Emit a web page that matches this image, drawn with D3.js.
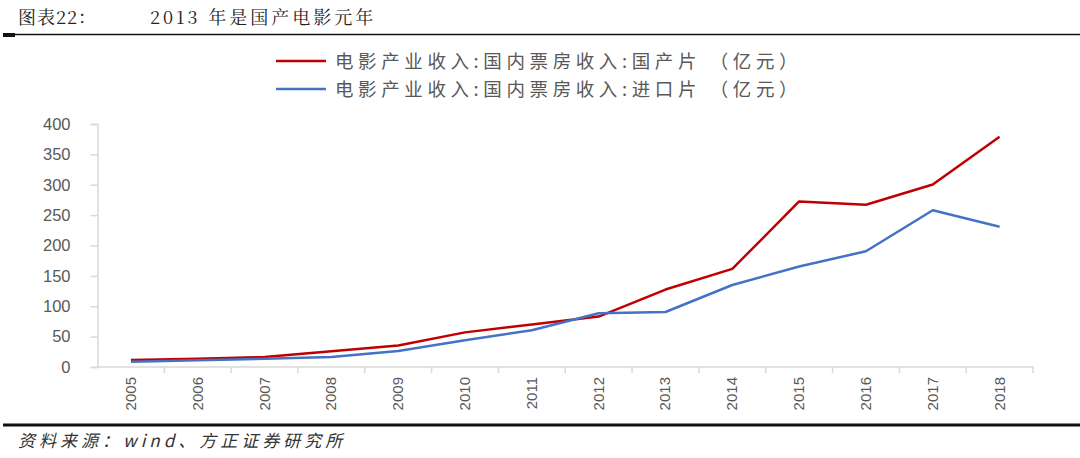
<!DOCTYPE html>
<html>
<head>
<meta charset="utf-8">
<script src="https://cdn.jsdelivr.net/npm/d3@7"></script>
<style>
  body { margin: 0; background: #fff; }
  svg { display: block; }
</style>
</head>
<body>
<svg id="chart" width="1080" height="458"></svg>
<script>
// chart data
const years = ['2005', '2006', '2007', '2008', '2009', '2010', '2011', '2012', '2013', '2014', '2015', '2016', '2017', '2018'];
const domestic = [11.5, 13.5, 16.5, 26, 35.5, 57, 70, 83, 127.5, 161.5, 272.5, 267, 300.5, 379];
const imported = [8.5, 11, 13.5, 16.5, 26.5, 44, 60.5, 88.5, 90.5, 135, 165.5, 190.5, 258, 231];
const yTicks = [0, 50, 100, 150, 200, 250, 300, 350, 400];
const seriesNames = ['电影产业收入:国内票房收入:国产片 （亿元）', '电影产业收入:国内票房收入:进口片 （亿元）'];
const seriesColors = ['#c00000', '#4472c4'];

const svg = d3.select('#chart');
const serif = '"Noto Serif CJK SC", "Noto Sans CJK SC", serif';
const sans = '"Noto Sans CJK SC", "Noto Sans", sans-serif';

// header
svg.append('text').attr('x', 18).attr('y', 24)
  .attr('font-family', serif).attr('font-size', 18).attr('letter-spacing', 1).attr('fill', '#222')
  .text('图表22：');
svg.append('text').attr('x', 150).attr('y', 24)
  .attr('font-family', serif).attr('font-size', 18).attr('letter-spacing', 3).attr('fill', '#222')
  .text('2013 年是国产电影元年');
svg.append('line').attr('x1', 3).attr('x2', 1080).attr('y1', 34.5).attr('y2', 34.5)
  .attr('stroke', '#111').attr('stroke-width', 1.5);
svg.append('rect').attr('x', 3).attr('y', 33).attr('width', 12).attr('height', 4).attr('fill', '#111');

// footer
svg.append('line').attr('x1', 3).attr('x2', 1080).attr('y1', 425).attr('y2', 425)
  .attr('stroke', '#111').attr('stroke-width', 3);
svg.append('text').attr('x', 18).attr('y', 447)
  .attr('font-family', sans).attr('font-size', 17).attr('letter-spacing', 4)
  .attr('font-style', 'italic').attr('fill', '#333')
  .text('资料来源：wind、方正证券研究所');

// scales
const x = d3.scaleBand().domain(years).range([97.5, 1033]);
const y = d3.scaleLinear().domain([0, 400]).range([367, 124]);

// y axis
const yAxis = svg.append('g').attr('transform', 'translate(97.5,0)')
  .call(d3.axisLeft(y).tickValues(yTicks).tickSize(7).tickPadding(20));
yAxis.select('.domain').attr('stroke', '#d9d9d9').attr('stroke-width', 1.5);
yAxis.selectAll('.tick line').attr('stroke', '#d9d9d9').attr('stroke-width', 1.5);
yAxis.selectAll('.tick text')
  .attr('font-family', '"Liberation Sans", Arial, sans-serif').attr('font-size', 16.5).attr('fill', '#595959');

// x axis: line with ticks between categories
const xg = svg.append('g');
xg.append('line').attr('x1', 97.5).attr('x2', 1033).attr('y1', 367).attr('y2', 367)
  .attr('stroke', '#d9d9d9').attr('stroke-width', 1.5);
xg.selectAll('line.tk').data(years.slice(1).concat(['end']))
  .join('line').attr('class', 'tk')
  .attr('x1', (d, i) => x(years[0]) + x.step() * (i + 1))
  .attr('x2', (d, i) => x(years[0]) + x.step() * (i + 1))
  .attr('y1', 367).attr('y2', 373)
  .attr('stroke', '#d9d9d9').attr('stroke-width', 1.5);
xg.selectAll('text').data(years).join('text')
  .attr('transform', d => `translate(${x(d) + x.bandwidth() / 2 + 5},377) rotate(-90)`)
  .attr('text-anchor', 'end')
  .attr('font-family', '"Liberation Sans Narrow", "Liberation Sans", sans-serif')
  .attr('font-size', 15).attr('fill', '#595959')
  .text(d => d);

// lines
const line = d3.line()
  .x((d, i) => x(years[i]) + x.bandwidth() / 2)
  .y(d => y(d));
[domestic, imported].forEach((vals, k) => {
  svg.append('path').datum(vals)
    .attr('d', line)
    .attr('fill', 'none')
    .attr('stroke', seriesColors[k])
    .attr('stroke-width', 2.5)
    .attr('stroke-linejoin', 'round');
});

// legend
seriesNames.forEach((name, k) => {
  const ly = 61 + k * 28;
  svg.append('line').attr('x1', 276).attr('x2', 326).attr('y1', ly).attr('y2', ly)
    .attr('stroke', seriesColors[k]).attr('stroke-width', 2.5);
  svg.append('text').attr('x', 335).attr('y', ly + 6.5)
    .attr('font-family', sans).attr('font-size', 18.5).attr('letter-spacing', 4.6).attr('fill', '#595959')
    .text(name);
});
</script>
</body>
</html>
